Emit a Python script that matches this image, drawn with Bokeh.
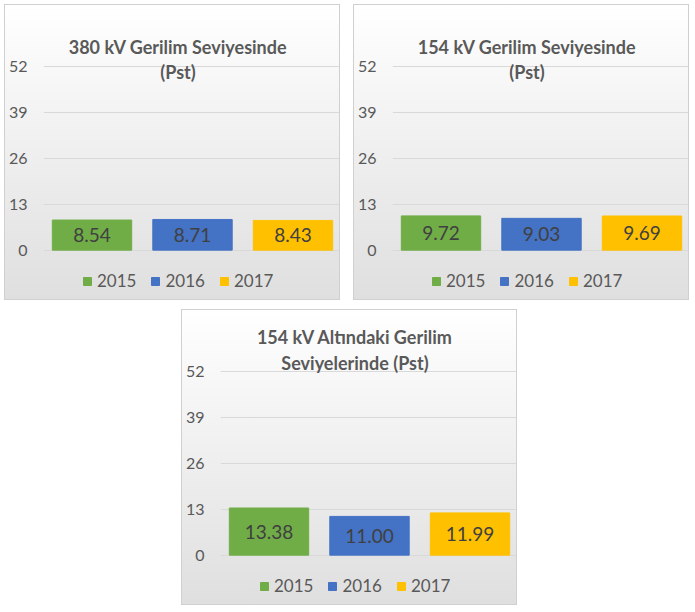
from bokeh.plotting import figure
from bokeh.models import Range1d, FixedTicker, ColumnDataSource, Spacer
from bokeh.layouts import row, column
from bokeh.embed import file_html
from bokeh.resources import INLINE
from bokeh.core.properties import value

# ---- data ----
years = ["2015", "2016", "2017"]
bar_colors = ["#70AD47", "#4472C4", "#FFC000"]
title_380 = ["380 kV Gerilim Seviyesinde", "(Pst)"]
title_154 = ["154 kV Gerilim Seviyesinde", "(Pst)"]
title_below_154 = ["154 kV Altındaki Gerilim", "Seviyelerinde (Pst)"]
pst_380 = [8.54, 8.71, 8.43]
pst_154 = [9.72, 9.03, 9.69]
pst_below_154 = [13.38, 11.00, 11.99]
y_ticks = [0, 13, 26, 39, 52]

# ---- layout constants ----
W, H = 336, 296
CW, CH = W - 2, H - 2   # canvas inside 1px css border
LEFT = 36
PX_Y = 3.5          # pixels per unit on y
PX_X = 100.5        # pixels per category on x
TOP_TO_52 = 61      # px from top of canvas to the 52 gridline
FIRST_CENTER = 84.5 # px from canvas left to centre of first bar
Y_END = 52 + TOP_TO_52 / PX_Y
Y_START = -(CH - TOP_TO_52 - 52 * PX_Y) / PX_Y
X_START = -(FIRST_CENTER - LEFT) / PX_X
X_END = X_START + (CW - LEFT) / PX_X
FONT = "Lato"
TXT = "#595959"


def panel(title_lines, vals, title_offsets):
    p = figure(width=W, height=H, output_backend="svg", toolbar_location=None,
               x_range=Range1d(X_START, X_END), y_range=Range1d(Y_START, Y_END),
               x_axis_location=None, min_border_left=LEFT, min_border_right=0,
               min_border_top=0, min_border_bottom=0,
               styles={"background": "linear-gradient(#ffffff, #dfdfdf)",
                       "border": "1px solid #d0d0d0", "box-sizing": "border-box"})
    p.border_fill_alpha = 0
    p.background_fill_alpha = 0
    p.outline_line_color = None
    p.xgrid.visible = False
    p.ygrid.grid_line_color = "#d9d9d9"
    p.yaxis.ticker = FixedTicker(ticks=y_ticks)
    p.yaxis.axis_line_color = None
    p.yaxis.major_tick_line_color = None
    p.yaxis.minor_tick_line_color = None
    p.yaxis.major_tick_out = 0
    p.yaxis.major_tick_in = 0
    p.yaxis.minor_tick_out = 0
    p.yaxis.minor_tick_in = 0
    p.yaxis.major_label_standoff = 16
    p.yaxis.major_label_text_font = FONT
    p.yaxis.major_label_text_font_size = "16px"
    p.yaxis.major_label_text_color = TXT

    idx = list(range(len(years)))
    src = ColumnDataSource(dict(x=idx, top=vals, color=bar_colors, year=years,
                                mid=[v / 2 for v in vals],
                                lab=["%.2f" % v for v in vals]))
    p.vbar(x="x", top="top", width=0.79, color="color", source=src, legend_field="year")
    p.text(x="x", y="mid", text="lab", source=src, text_align="center",
           text_baseline="middle", text_font=value(FONT), text_font_size="19px",
           text_color="#404040")

    xc = X_START + (170.5 - LEFT) / PX_X
    ys = [Y_END - o / PX_Y for o in title_offsets]
    p.text(x=[xc, xc], y=ys, text=title_lines, text_align="center",
           text_baseline="middle", text_font=value(FONT), text_font_size="18px",
           text_font_style="bold", text_color=TXT)

    lg = p.legend[0]
    lg.orientation = "horizontal"
    lg.location = (39, 10)
    lg.padding = 0
    lg.margin = 0
    lg.spacing = 14
    lg.label_standoff = 5
    lg.glyph_width = 10
    lg.glyph_height = 10
    lg.border_line_alpha = 0
    lg.background_fill_alpha = 0
    lg.label_text_font = FONT
    lg.label_text_font_size = "17px"
    lg.label_text_color = TXT
    return p


p1 = panel(title_380, pst_380, [41, 66])
p2 = panel(title_154, pst_154, [41, 66])
p3 = panel(title_below_154, pst_below_154, [26, 52])

layout = column(row(p1, p2, spacing=13),
                row(Spacer(width=177, height=H), p3),
                spacing=9, margin=(4, 0, 0, 4))

open("out.html", "w").write(file_html(layout, INLINE))
